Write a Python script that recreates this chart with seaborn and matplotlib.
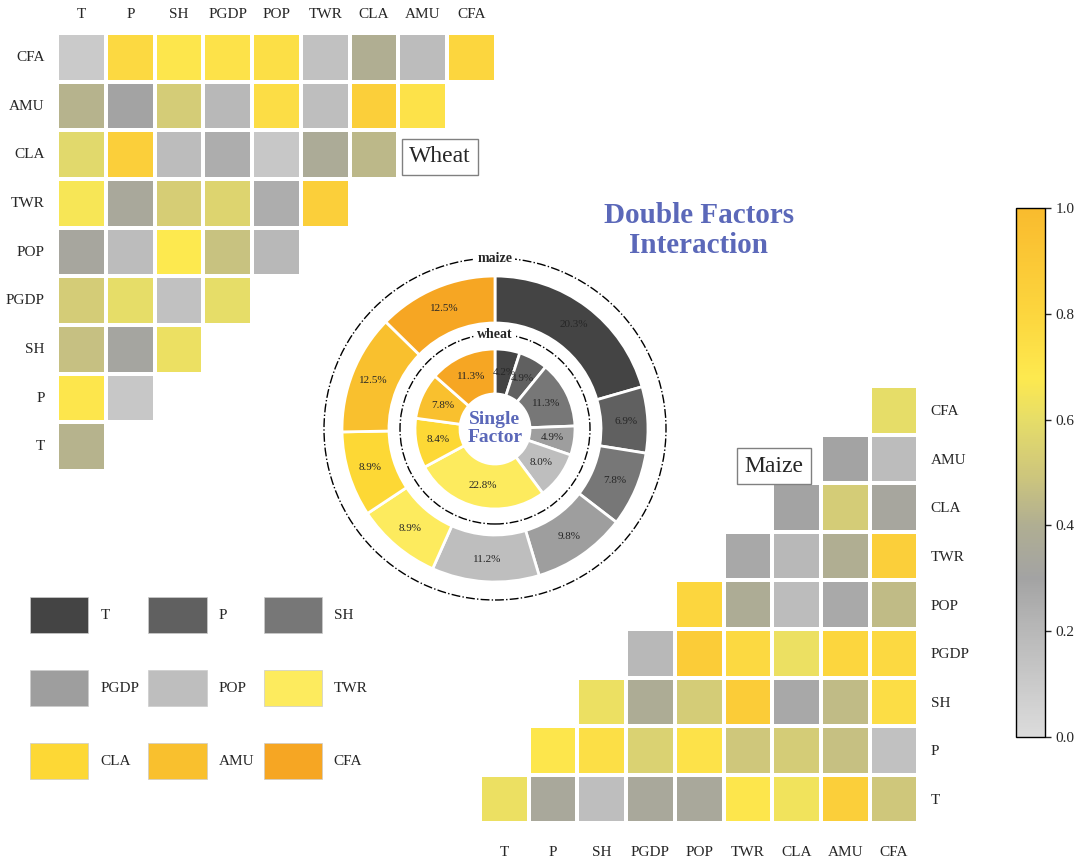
import numpy as np
import pandas as pd
import seaborn as sns
import matplotlib.pyplot as plt
from matplotlib.colors import LinearSegmentedColormap
from matplotlib.patches import Patch, Circle

sns.set_style("white")
plt.rcParams["font.family"] = ["Liberation Serif", "DejaVu Serif"]

# ---------------- data ----------------
factors = ["T", "P", "SH", "PGDP", "POP", "TWR", "CLA", "AMU", "CFA"]

# Wheat (lower triangle): each row lists values for columns T.. up to the row factor
wheat_T = [0.42]
wheat_P = [0.70, 0.12]
wheat_SH = [0.47, 0.32, 0.62]
wheat_PGDP = [0.52, 0.60, 0.15, 0.60]
wheat_POP = [0.33, 0.18, 0.68, 0.48, 0.20]
wheat_TWR = [0.66, 0.35, 0.53, 0.56, 0.25, 0.85]
wheat_CLA = [0.58, 0.85, 0.18, 0.25, 0.12, 0.37, 0.44]
wheat_AMU = [0.42, 0.30, 0.52, 0.20, 0.75, 0.17, 0.85, 0.72]
wheat_CFA = [0.10, 0.78, 0.70, 0.72, 0.74, 0.15, 0.40, 0.18, 0.80]

# Maize (upper triangle): each row lists values from the row factor column to CFA
maize_T = [0.62, 0.35, 0.17, 0.35, 0.35, 0.70, 0.64, 0.85, 0.50]
maize_P = [0.70, 0.74, 0.55, 0.72, 0.50, 0.52, 0.47, 0.15]
maize_SH = [0.62, 0.38, 0.52, 0.87, 0.28, 0.45, 0.75]
maize_PGDP = [0.20, 0.87, 0.78, 0.62, 0.80, 0.78]
maize_POP = [0.80, 0.38, 0.18, 0.27, 0.45]
maize_TWR = [0.28, 0.20, 0.40, 0.85]
maize_CLA = [0.30, 0.52, 0.33]
maize_AMU = [0.30, 0.18]
maize_CFA = [0.60]

# Single factor shares (%)
maize_single = [20.3, 6.9, 7.8, 9.8, 11.2, 8.9, 8.9, 12.5, 12.5]
wheat_single = [4.2, 4.9, 11.3, 4.9, 8.0, 22.8, 8.4, 7.8, 11.3]
factor_colors = ["#444444", "#606060", "#777777", "#9e9e9e", "#bebebe",
                 "#fdeb5e", "#fdd835", "#f9c02e", "#f6a623"]

cbar_ticks = [0.0, 0.2, 0.4, 0.6, 0.8, 1.0]

# ---------------- build matrices ----------------
wheat_rows = [wheat_T, wheat_P, wheat_SH, wheat_PGDP, wheat_POP,
              wheat_TWR, wheat_CLA, wheat_AMU, wheat_CFA]
maize_rows = [maize_T, maize_P, maize_SH, maize_PGDP, maize_POP,
              maize_TWR, maize_CLA, maize_AMU, maize_CFA]
n = len(factors)
W = np.full((n, n), np.nan)
M = np.full((n, n), np.nan)
for i in range(n):
    W[i, :len(wheat_rows[i])] = wheat_rows[i]
    M[i, i:] = maize_rows[i]
wheat_df = pd.DataFrame(W[::-1], index=factors[::-1], columns=factors)
maize_df = pd.DataFrame(M[::-1], index=factors[::-1], columns=factors)

cmap = LinearSegmentedColormap.from_list(
    "gy",
    [(0.0, "#dcdcdc"), (0.2, "#b8b8b8"), (0.3, "#a3a3a3"), (0.4, "#b0ae92"),
     (0.5, "#cfc77b"), (0.6, "#e6dd68"), (0.68, "#fde94f"), (0.8, "#fcd63e"),
     (1.0, "#f9bb2e")])

FW, FH = 1080, 867
fig = plt.figure(figsize=(FW / 100, FH / 100), dpi=100)

def frac(x0, y0, x1, y1):
    return [x0 / FW, 1 - y1 / FH, (x1 - x0) / FW, (y1 - y0) / FH]

ax_w = fig.add_axes(frac(57.3, 33, 495.7, 471))
ax_m = fig.add_axes(frac(480, 386, 918.3, 823.3))
cax = fig.add_axes(frac(1016, 208, 1045, 737))

sns.heatmap(wheat_df, mask=wheat_df.isna(), cmap=cmap, vmin=0, vmax=1,
            linewidths=1.5, linecolor="white", cbar=False, ax=ax_w)
sns.heatmap(maize_df, mask=maize_df.isna(), cmap=cmap, vmin=0, vmax=1,
            linewidths=1.5, linecolor="white", cbar=True, cbar_ax=cax, ax=ax_m)

ax_w.xaxis.tick_top()
ax_w.tick_params(axis="x", length=0, pad=9, labelsize=11, rotation=0)
ax_w.tick_params(axis="y", length=0, pad=9, labelsize=11, rotation=0)
ax_w.set_xlabel("")
ax_w.set_ylabel("")

ax_m.yaxis.tick_right()
ax_m.tick_params(axis="x", length=0, pad=16, labelsize=11, rotation=0)
ax_m.tick_params(axis="y", length=0, pad=9, labelsize=11, rotation=0)
for t in ax_m.get_yticklabels():
    t.set_ha("left")
ax_m.set_xlabel("")
ax_m.set_ylabel("")

cb = ax_m.collections[0].colorbar
cb.set_ticks(cbar_ticks)
cb.set_ticklabels([f"{t:.1f}" for t in cbar_ticks])
cb.ax.tick_params(labelsize=11, length=4, width=1, direction="out")
cb.outline.set_visible(True)
cb.outline.set_edgecolor("black")
cb.outline.set_linewidth(1)

# ---------------- overlay (donut, title, legend) ----------------
ax0 = fig.add_axes([0, 0, 1, 1])
cx, cy = 495, FH - 429
ax0.pie(maize_single, colors=factor_colors, radius=153, center=(cx, cy),
        startangle=90, counterclock=False,
        wedgeprops=dict(width=47, edgecolor="white", linewidth=2),
        labels=[f"{v:.1f}%" for v in maize_single], labeldistance=0.856,
        textprops=dict(ha="center", va="center", fontsize=8))
ax0.pie(wheat_single, colors=factor_colors, radius=80, center=(cx, cy),
        startangle=90, counterclock=False,
        wedgeprops=dict(width=45, edgecolor="white", linewidth=2),
        labels=[f"{v:.1f}%" for v in wheat_single], labeldistance=0.72,
        textprops=dict(ha="center", va="center", fontsize=8))
ax0.add_patch(Circle((cx, cy), 171, fill=False, ls="-.", lw=1, color="black"))
ax0.add_patch(Circle((cx, cy), 95, fill=False, ls="-.", lw=1, color="black"))
ax0.text(cx, cy + 171, "maize", ha="center", va="center", fontsize=10,
         fontweight="bold", bbox=dict(facecolor="white", edgecolor="none", pad=2))
ax0.text(cx, cy + 95, "wheat", ha="center", va="center", fontsize=10,
         fontweight="bold", bbox=dict(facecolor="white", edgecolor="none", pad=2))
ax0.text(cx, cy + 0.5, "Single\nFactor", ha="center", va="center", fontsize=14,
         fontweight="bold", color="#5B68B9", linespacing=1.06)

ax0.text(699, FH - 230.5, "Double Factors\nInteraction", ha="center", va="center",
         fontsize=21, fontweight="bold", color="#5B68B9", linespacing=1.1)

ax0.text(440, FH - 157, "Wheat", ha="center", va="center", fontsize=17,
         bbox=dict(boxstyle="square,pad=0.3", facecolor="white", edgecolor="#808080", lw=1))
ax0.text(774, FH - 466, "Maize", ha="center", va="center", fontsize=17,
         bbox=dict(boxstyle="square,pad=0.3", facecolor="white", edgecolor="#808080", lw=1))

order = [0, 3, 6, 1, 4, 7, 2, 5, 8]
handles = [Patch(facecolor=factor_colors[i], edgecolor="#cccccc", lw=0.5, label=factors[i])
           for i in order]
ax0.legend(handles=handles, ncol=3, loc="upper left",
           bbox_to_anchor=(30, FH - 597), bbox_transform=ax0.transData,
           frameon=False, fontsize=11, handlelength=3.8, handleheight=3.24,
           handletextpad=0.8, labelspacing=2.42, columnspacing=0.6,
           borderpad=0, borderaxespad=0)

ax0.set_xlim(0, FW)
ax0.set_ylim(0, FH)
ax0.axis("off")

fig.savefig("out.png", dpi=100)
